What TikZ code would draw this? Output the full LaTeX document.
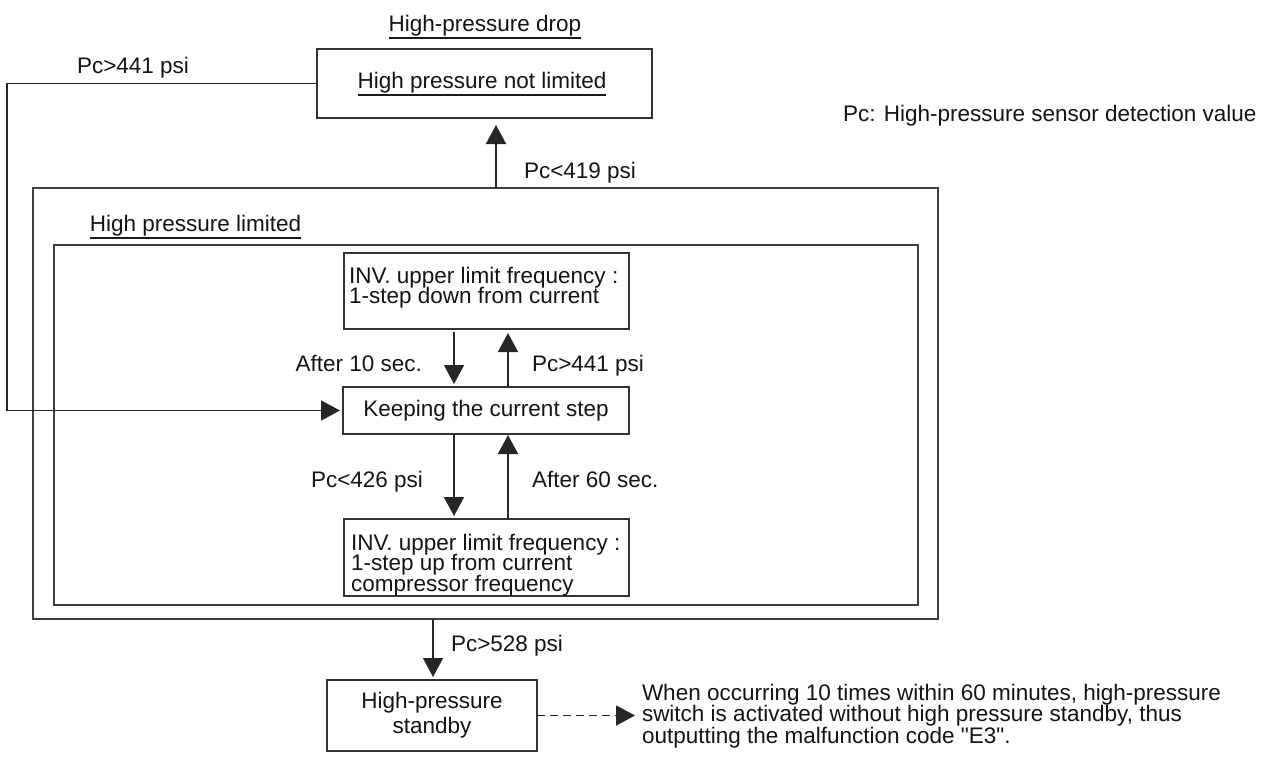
\documentclass[tikz,border=0pt]{standalone}
\usepackage{fontspec}
\setmainfont{Liberation Sans}
\usetikzlibrary{arrows.meta}
% font size with a fixed baseline distance, even when lines are tightly set
\newcommand{\tightfont}[1]{\fontsize{11.25}{#1}\selectfont\lineskiplimit=-\maxdimen}
% straight double quote, set as a glyph so no quote mapping applies
\newcommand{\sq}{\XeTeXglyph\XeTeXcharglyph"22\relax}
\begin{document}
\begin{tikzpicture}[x=0.5pt,y=-0.5pt,
  every node/.style={inner sep=0pt, outer sep=0pt, text=black!92,
    font=\fontsize{11.25}{12}\selectfont},
  box/.style={draw=black!80, line width=0.8pt, rectangle, anchor=north west},
  frame/.style={draw=black!75, line width=0.85pt, rectangle, anchor=north west},
  link/.style={draw=black!85, line width=0.8pt,
    -{Triangle[length=9.5pt,width=10pt]}, shorten >=1.5pt},
  uline/.style={draw=black!90, line width=0.8pt},
  lbl/.style={anchor=base},
  para/.style={anchor=north west, align=left},
]
\useasboundingbox (0,0) rectangle (1276,756);

% x positions of the vertical connectors
\coordinate (lx) at (7,0);
\coordinate (upx) at (496,0);
\coordinate (dx) at (454,0);
\coordinate (ux) at (508,0);
\coordinate (sx) at (433,0);

% high pressure not limited state
\node[lbl] (title) at (485,31) {High-pressure drop};
\draw[uline] ([yshift=-3.5pt]title.base west) -- ([yshift=-3.5pt]title.base east);
\node[box, minimum width=167.5pt, minimum height=34.5pt] (drop) at (317,49) {};
\node[lbl] (nl) at (482,88) {High pressure not limited};
\draw[uline] ([yshift=-3.5pt]nl.base west) -- ([yshift=-3.5pt]nl.base east);

\node[anchor=base west] (legend) at (843,121) {Pc: High-pressure sensor detection value};

% high pressure limited region
\node[frame, minimum width=452.5pt, minimum height=215.5pt] (outer) at (33,188) {};
\node[frame, minimum width=432pt, minimum height=180pt] (inner) at (54,245) {};
\node[lbl] (hpl) at (195.5,231) {High pressure limited};
\draw[uline] ([yshift=-3.5pt]hpl.base west) -- ([yshift=-3.5pt]hpl.base east);

% steps of the inverter upper limit
\node[box, minimum width=142.5pt, minimum height=38pt] (A) at (344,253) {};
\node[para, font=\tightfont{10}] (Atext) at (349,267)
  {INV. upper limit frequency :\\1-step down from current};
\node[box, minimum width=143pt, minimum height=23.5pt] (K) at (343,387) {};
\node (Ktext) at (K.center) {Keeping the current step};
\node[box, minimum width=142.5pt, minimum height=38.5pt] (C) at (344,519) {};
\node[para, font=\tightfont{10.25}] (Ctext) at (351,534)
  {INV. upper limit frequency :\\1-step up from current\\compressor frequency};

% standby state and note
\node[box, minimum width=105pt, minimum height=35.5pt] (standby) at (327,680) {};
\node[align=center, font=\tightfont{12.5}] (stext) at (standby.center)
  {High-pressure\\standby};
\node[para, font=\tightfont{10.75}] (note) at (642,684)
  {When occurring 10 times within 60 minutes, high-pressure\\switch is activated without high pressure standby, thus\\outputting the malfunction code \sq E3\sq.};

% transitions
\draw[link] (drop.west) -- (drop.west -| lx) -- (K.west -| lx) -- (K.west);
\node[lbl] (l1) at (133,73) {Pc>441 psi};
\draw[link, shorten >=3.5pt] (outer.north -| upx) -- (drop.south -| upx);
\node[lbl] (l2) at (580,178) {Pc<419 psi};

\draw[link, shorten <=1.5pt] (A.south -| dx) -- (K.north -| dx);
\node[anchor=base east] (l3) at (422,371) {After 10 sec.};
\draw[link, shorten >=2pt] (K.north -| ux) -- (A.south -| ux);
\node[anchor=base west] (l4) at (532,371) {Pc>441 psi};

\draw[link] (K.south -| dx) -- (C.north -| dx);
\node[anchor=base east] (l5) at (423,487) {Pc<426 psi};
\draw[link, shorten >=0.5pt] (C.north -| ux) -- (K.south -| ux);
\node[anchor=base west] (l6) at (532,487) {After 60 sec.};

\draw[link] (outer.south -| sx) -- (standby.north -| sx);
\node[lbl] (l7) at (507,651) {Pc>528 psi};

\draw[link, line width=0.9pt, dash pattern=on 4pt off 2.5pt, shorten >=3.5pt]
  (standby.east) -- (standby.east -| note.west);
\end{tikzpicture}
\end{document}
